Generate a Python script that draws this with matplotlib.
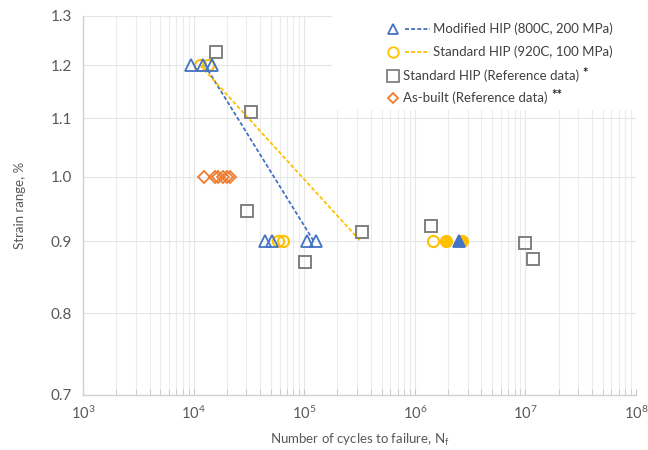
import matplotlib
matplotlib.use("Agg")
import matplotlib.pyplot as plt
from matplotlib.lines import Line2D
from matplotlib.patches import Rectangle
from matplotlib.ticker import LogLocator, FixedLocator, NullFormatter, FixedFormatter

plt.rcParams['font.family'] = ['Lato', 'DejaVu Sans']
plt.rcParams['mathtext.fontset'] = 'custom'
plt.rcParams['mathtext.rm'] = 'Lato'
plt.rcParams['mathtext.it'] = 'Lato:italic'

# ---- data ----
mod_x = [9570, 12100, 14600, 43900, 50800, 107000, 127000]
mod_y = [1.2, 1.2, 1.2, 0.9, 0.9, 0.9, 0.9]
mod_runout_x = [2.53e6]
mod_runout_y = [0.9]
mod_fit_x = [12600, 122000]
mod_fit_y = [1.2, 0.9]

std_x = [11400, 13400, 57500, 63800, 1.47e6]
std_y = [1.2, 1.2, 0.9, 0.9, 0.9]
std_runout_x = [1.93e6, 2.69e6]
std_runout_y = [0.9, 0.9]
std_fit_x = [11400, 323000]
std_fit_y = [1.2, 0.9]

ref_x = [15800, 32800, 30200, 101000, 336000, 1.41e6, 9.95e6, 1.18e7]
ref_y = [1.226, 1.112, 0.945, 0.8695, 0.914, 0.922, 0.897, 0.874]

asb_x = [12400, 15500, 16500, 18400, 19900, 21200]
asb_y = [1.0, 1.0, 1.0, 1.0, 1.0, 1.0]

y_ticks = [0.7, 0.8, 0.9, 1.0, 1.1, 1.2, 1.3]
y_ticklabels = ['0.7', '0.8', '0.9', '1.0', '1.1', '1.2', '1.3']

legend_labels = ['Modified HIP (800C, 200 MPa)', 'Standard HIP (920C, 100 MPa)',
                 'Standard HIP (Reference data)', 'As-built (Reference data)']
legend_stars = ['', '', '*', '**']

BLUE = '#4472C4'
GOLD = '#FFC000'
GRAY = '#808080'
ORANGE = '#ED7D31'
TXT = '#595959'

W, H = 648, 450
fig = plt.figure(figsize=(6.48, 4.5), dpi=100)
ax = fig.add_axes([83 / W, 1 - 395 / H, (636 - 83) / W, (395 - 16) / H])

ax.set_xscale('log')
ax.set_yscale('log')
ax.set_xlim(1e3, 1e8)
ax.set_ylim(0.7, 1.3)

ax.xaxis.set_major_locator(LogLocator(base=10, numticks=10))
ax.xaxis.set_minor_locator(LogLocator(base=10, subs=range(2, 10), numticks=100))
ax.xaxis.set_minor_formatter(NullFormatter())
ax.yaxis.set_major_locator(FixedLocator(y_ticks))
ax.yaxis.set_major_formatter(FixedFormatter(y_ticklabels))
ax.yaxis.set_minor_locator(FixedLocator([]))

ax.grid(True, which='major', axis='both', color='#e6e6e6', lw=0.8, zorder=0)
ax.grid(True, which='minor', axis='x', color='#ececec', lw=0.8, zorder=0)
ax.set_axisbelow(True)

for s in ['top', 'right']:
    ax.spines[s].set_visible(False)
for s in ['left', 'bottom']:
    ax.spines[s].set_color('#d0d0d0')
    ax.spines[s].set_linewidth(1.0)

ax.tick_params(axis='x', which='both', direction='in', length=4, color='#c8c8c8',
               labelsize=10.5, labelcolor=TXT, pad=7)
ax.tick_params(axis='y', which='both', length=0, labelsize=11, labelcolor=TXT, pad=8)

ax.set_xlabel('Number of cycles to failure, N$_\\mathregular{f}$', fontsize=9.5, color=TXT, labelpad=7)
ax.set_ylabel('Strain range, %', fontsize=9.5, color=TXT, labelpad=18)

# white legend background
ax.add_patch(Rectangle((332 / W, 1 - 110 / H), (W - 332) / W, 110 / H,
                       transform=fig.transFigure, facecolor='white', edgecolor='none',
                       zorder=1.5, clip_on=False))

# trend lines
ax.plot(mod_fit_x, mod_fit_y, ls=(0, (2.2, 1.2)), color=BLUE, lw=1.3, zorder=3)
ax.plot(std_fit_x, std_fit_y, ls=(0, (2.2, 1.2)), color=GOLD, lw=1.3, zorder=3)

# data
ax.plot(ref_x, ref_y, ls='none', marker='s', ms=8.5, mfc='none', mec=GRAY, mew=1.4, zorder=4)
ax.plot(asb_x, asb_y, ls='none', marker='D', ms=6, mfc='none', mec=ORANGE, mew=1.3, zorder=4)
ax.plot(std_x, std_y, ls='none', marker='o', ms=8, mfc='none', mec=GOLD, mew=1.5, zorder=5)
ax.plot(std_runout_x, std_runout_y, ls='none', marker='o', ms=8, mfc=GOLD, mec=GOLD, mew=1.5, zorder=5)
ax.plot(mod_x, mod_y, ls='none', marker='^', ms=8, mfc='none', mec=BLUE, mew=1.3, zorder=6)
ax.plot(mod_runout_x, mod_runout_y, ls='none', marker='^', ms=8, mfc=BLUE, mec=BLUE, mew=1.3, zorder=6)

# custom legend
rows_y = [29, 52, 76, 98]
marker_specs = [('^', BLUE, 7.5), ('o', GOLD, 7.5), ('s', GRAY, 8), ('D', ORANGE, 5.5)]
line_cols = [BLUE, GOLD, None, None]
for i, yy in enumerate(rows_y):
    fy = 1 - yy / H
    m, c, ms = marker_specs[i]
    fig.add_artist(Line2D([393 / W], [fy], transform=fig.transFigure, ls='none', marker=m,
                          ms=ms, mfc='none', mec=c, mew=1.3))
    if line_cols[i]:
        fig.add_artist(Line2D([405 / W, 430 / W], [fy, fy], transform=fig.transFigure,
                              ls=(0, (2.2, 1.2)), color=line_cols[i], lw=1.3))
        tx = 433
    else:
        tx = 403
    t = fig.text(tx / W, fy, legend_labels[i], fontsize=9.5, color='#404040',
                 ha='left', va='center')
    if legend_stars[i]:
        ax.annotate(legend_stars[i], xy=(1, 0.5), xycoords=t, xytext=(2.5, 2),
                    textcoords='offset points', fontsize=9.5, fontweight='bold',
                    color='#262626', ha='left', va='center', annotation_clip=False)

fig.savefig('out.png', dpi=100)
